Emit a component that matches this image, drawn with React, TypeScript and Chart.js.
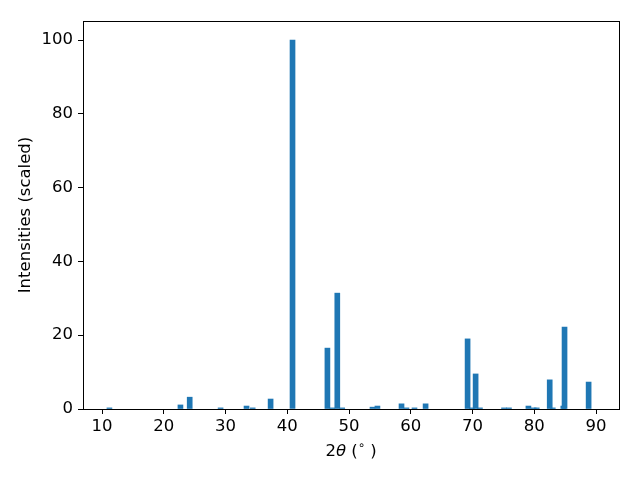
import React, { useEffect, useRef } from "react";
import { Chart, registerables } from "chart.js";

Chart.register(...registerables);

const peakPositions = [11.2, 22.7, 24.2, 29.2, 33.4, 34.4, 37.3, 40.85, 46.5, 47.3, 48.1, 48.9, 53.8, 54.6, 58.5, 59.3, 60.6, 62.4, 69.2, 69.9, 70.5, 71.2, 75.1, 75.9, 79.05, 79.9, 80.4, 82.5, 83.0, 84.7, 84.9, 88.8];
const peakIntensities = [0.3, 1.1, 3.2, 0.3, 0.8, 0.3, 2.7, 100, 16.5, 0.3, 31.4, 0.3, 0.5, 0.8, 1.4, 0.3, 0.3, 1.4, 19.0, 0.3, 9.5, 0.3, 0.3, 0.3, 0.8, 0.3, 0.3, 7.9, 0.3, 0.8, 22.2, 7.3];
const xTicks = [10, 20, 30, 40, 50, 60, 70, 80, 90];
const yTicks = [0, 20, 40, 60, 80, 100];
const xTitleParts = [
  { t: "2", style: "normal", scale: 1, rise: 0 },
  { t: "θ", style: "italic", scale: 1, rise: 0 },
  { t: " (", style: "normal", scale: 1, rise: 0 },
  { t: "∘", style: "normal", scale: 0.7, rise: 6 },
  { t: " )", style: "normal", scale: 1, rise: 0 },
];

const FONT_SIZE = 16.5;

const framePlugin = {
  id: "frame",
  afterDraw(chart: any) {
    const { ctx, chartArea } = chart;
    ctx.save();
    ctx.strokeStyle = "#000";
    ctx.lineWidth = 1;
    ctx.strokeRect(chartArea.left + 0.5, chartArea.top + 0.5, chartArea.right - chartArea.left, chartArea.bottom - chartArea.top);
    // x-axis title with italic theta and superscript degree
    const cx = (chartArea.left + chartArea.right) / 2;
    const y = chart.height - 28;
    const fontFor = (p: any) => `${p.style} ${FONT_SIZE * p.scale}px "DejaVu Sans"`;
    let total = 0;
    for (const p of xTitleParts) {
      ctx.font = fontFor(p);
      total += ctx.measureText(p.t).width;
    }
    let x = cx - total / 2;
    ctx.fillStyle = "#000";
    ctx.textBaseline = "middle";
    ctx.textAlign = "left";
    for (const p of xTitleParts) {
      ctx.font = fontFor(p);
      ctx.fillText(p.t, x, y - p.rise);
      x += ctx.measureText(p.t).width;
    }
    ctx.restore();
  },
};

export default function App() {
  const ref = useRef<HTMLCanvasElement>(null);
  useEffect(() => {
    const font = { family: "DejaVu Sans", size: FONT_SIZE };
    const chart = new Chart(ref.current!, {
      type: "bar",
      data: {
        datasets: [
          {
            data: peakPositions.map((x, i) => ({ x, y: peakIntensities[i] })),
            backgroundColor: "#1f77b4",
            borderWidth: 0,
            barThickness: 5,
          },
        ],
      },
      options: {
        animation: false,
        responsive: false,
        devicePixelRatio: 1,
        layout: { padding: { top: 21, right: 21, left: 0, bottom: 0 } },
        plugins: { legend: { display: false }, tooltip: { enabled: false } },
        scales: {
          x: {
            type: "linear",
            min: 6.92,
            max: 93.72,
            offset: false,
            afterBuildTicks: (s: any) => {
              s.ticks = xTicks.map((v) => ({ value: v }));
            },
            afterFit: (s: any) => {
              s.height = 71;
            },
            grid: { offset: false, drawOnChartArea: false, tickLength: 5, tickColor: "#000", tickWidth: 1 },
            border: { display: false },
            ticks: { color: "#000", font, padding: 3, maxRotation: 0, autoSkip: false },
            title: { display: false },
          },
          y: {
            type: "linear",
            min: 0,
            max: 105.15,
            afterBuildTicks: (s: any) => {
              s.ticks = yTicks.map((v) => ({ value: v }));
            },
            afterFit: (s: any) => {
              s.width = 83;
            },
            grid: { drawOnChartArea: false, tickLength: 5, tickColor: "#000", tickWidth: 1 },
            border: { display: false },
            ticks: { color: "#000", font, padding: 5, autoSkip: false },
            title: { display: true, text: "Intensities (scaled)", color: "#000", font, padding: { top: 16, bottom: 0 } },
          },
        },
      },
      plugins: [framePlugin],
    } as any);
    return () => chart.destroy();
  }, []);
  return (
    <div style={{ position: "fixed", left: 0, top: 0, width: 640, height: 480, background: "#fff" }}>
      <canvas ref={ref} width={640} height={480} />
    </div>
  );
}
